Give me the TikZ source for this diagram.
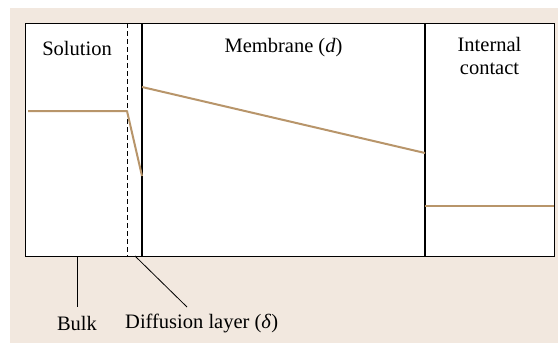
\documentclass[tikz,border=0pt]{standalone}
\usepackage{fontspec}
\setmainfont{Liberation Serif}
\definecolor{bgbeige}{HTML}{F2E8DF}
\definecolor{curve}{HTML}{B8956A}
\tikzset{
  lbl/.style={font=\fontsize{20.5}{23}\selectfont, inner sep=0pt, align=center},
  frame/.style={draw=black, line width=1.4pt},
  conc/.style={draw=curve, line width=2pt},
  leader/.style={draw=black, line width=0.8pt}
}
\begin{document}
\begin{tikzpicture}[x=1pt,y=-1pt]
\useasboundingbox (0,0) rectangle (558,343);
\fill[bgbeige] (10,8) rectangle (558,343);
\node[frame, fill=white, minimum width=529pt, minimum height=233pt, anchor=north west, inner sep=0pt] (box) at (25,23) {};
% dividers
\coordinate (dtop) at (127,23);
\coordinate (dbot) at (127,256);
\draw[dashed, dash pattern=on 5pt off 3pt, line width=0.9pt] (dtop) -- (dbot);
\coordinate (mtop) at (142,23);
\coordinate (mbot) at (142,256);
\draw[line width=2pt] (mtop) -- (mbot);
\coordinate (itop) at (425,23);
\coordinate (ibot) at (425,256);
\draw[line width=2pt] (itop) -- (ibot);
% labels
\node[lbl] (sol) at (77,48) {Solution};
\node[lbl] (mem) at (283.5,48) {Membrane (\textit{d})};
\node[lbl, anchor=north] (ic) at (489.5,37) {Internal\\contact};
% concentration profile
\coordinate (s0) at (28,111);
\coordinate (s1) at (127,111);
\coordinate (s2) at (142,176);
\coordinate (m0) at (142,87);
\coordinate (m1) at (425,153);
\coordinate (c0) at (425,205.5);
\coordinate (c1) at (554,205.5);
\draw[conc, line join=round] (s0) -- (s1) -- (s2);
\draw[conc] (m0) -- (m1);
\draw[conc] (c0) -- (c1);
% leaders
\node[lbl] (bulk) at (77,323) {Bulk};
\node[lbl, anchor=west] (diff) at (125,323) {Diffusion layer (\textit{δ})};
\coordinate (b0) at (77,256);
\coordinate (b1) at (77,307);
\draw[leader] (b0) -- (b1);
\coordinate (d0) at (135,256);
\coordinate (d1) at (187,307);
\draw[leader] (d0) -- (d1);
\end{tikzpicture}
\end{document}
